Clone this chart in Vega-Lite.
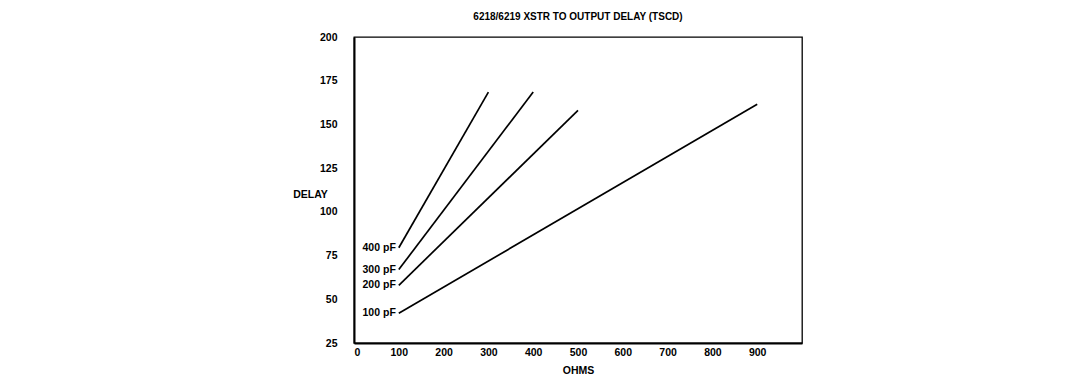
{
  "$schema": "https://vega.github.io/schema/vega-lite/v6.json",
  "width": 448,
  "height": 306,
  "autosize": "none",
  "padding": {"left": 354, "top": 37, "right": 283, "bottom": 43},
  "background": "white",
  "title": {
    "text": "6218/6219 XSTR TO OUTPUT DELAY (TSCD)",
    "font": "Liberation Sans",
    "fontSize": 10,
    "fontWeight": "bold",
    "color": "black",
    "anchor": "middle",
    "offset": 10
  },
  "config": {
    "view": {"stroke": "black", "strokeWidth": 1.3},
    "axis": {
      "labelFont": "Liberation Sans",
      "labelFontWeight": "bold",
      "labelFontSize": 10.5,
      "labelColor": "black",
      "titleFont": "Liberation Sans",
      "titleFontWeight": "bold",
      "titleFontSize": 10.5,
      "titleColor": "black",
      "domainColor": "black",
      "domainWidth": 2,
      "ticks": false,
      "grid": false
    }
  },
  "data": {
    "values": [
      {"ohms": 100, "delay": 42, "cap": "100 pF"},
      {"ohms": 900, "delay": 161.5, "cap": "100 pF"},
      {"ohms": 100, "delay": 58, "cap": "200 pF"},
      {"ohms": 500, "delay": 158, "cap": "200 pF"},
      {"ohms": 100, "delay": 67, "cap": "300 pF"},
      {"ohms": 400, "delay": 168.5, "cap": "300 pF"},
      {"ohms": 100, "delay": 79.5, "cap": "400 pF"},
      {"ohms": 300, "delay": 168.5, "cap": "400 pF"}
    ]
  },
  "encoding": {
    "x": {
      "field": "ohms",
      "type": "quantitative",
      "scale": {"domain": [0, 1000], "nice": false},
      "axis": {
        "values": [0, 100, 200, 300, 400, 500, 600, 700, 800, 900],
        "title": "OHMS",
        "labelPadding": 4,
        "titlePadding": 8
      }
    },
    "y": {
      "field": "delay",
      "type": "quantitative",
      "scale": {"domain": [25, 200], "nice": false, "zero": false},
      "axis": {
        "values": [25, 50, 75, 100, 125, 150, 175, 200],
        "title": "DELAY",
        "titleAngle": 0,
        "titleAlign": "center",
        "titleBaseline": "middle",
        "titleX": -44,
        "titleY": 157,
        "labelPadding": 17
      }
    }
  },
  "layer": [
    {
      "mark": {"type": "line", "color": "black", "strokeWidth": 1.7},
      "encoding": {"detail": {"field": "cap"}}
    },
    {
      "transform": [{"filter": "datum.ohms == 100"}],
      "mark": {
        "type": "text",
        "align": "right",
        "baseline": "middle",
        "dx": -3,
        "font": "Liberation Sans",
        "fontWeight": "bold",
        "fontSize": 10.5,
        "color": "black"
      },
      "encoding": {"text": {"field": "cap"}}
    }
  ]
}
